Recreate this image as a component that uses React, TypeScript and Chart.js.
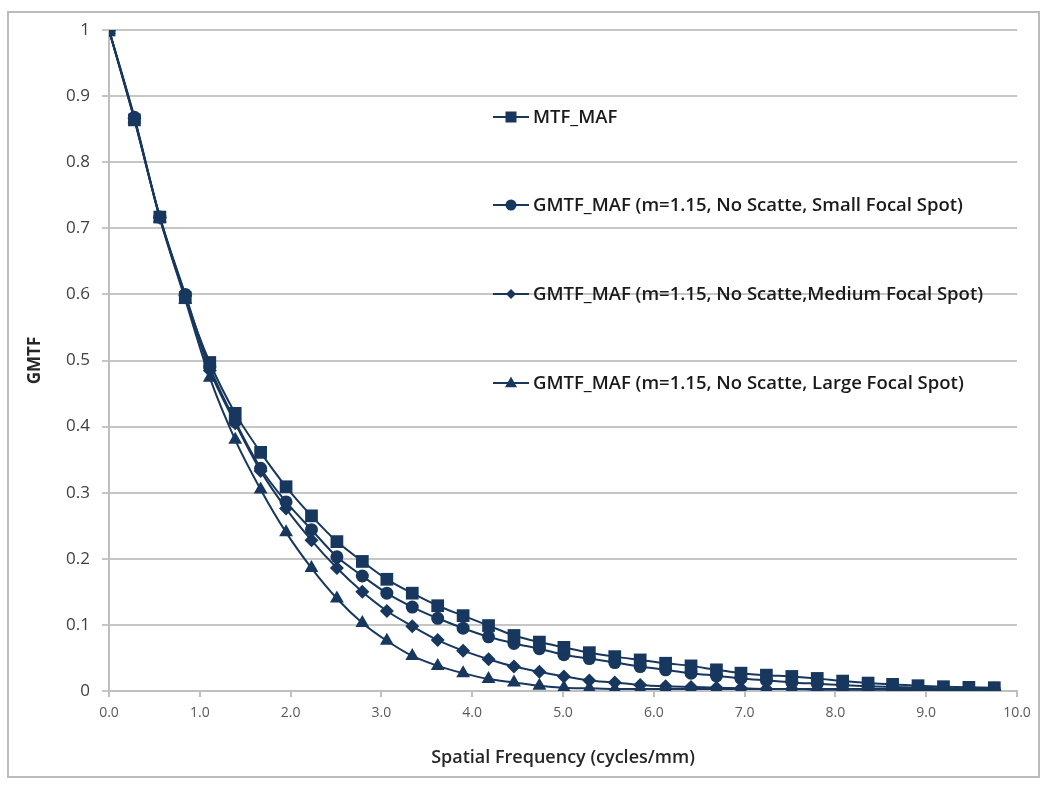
import React, { useEffect, useRef } from "react";
import { Chart, registerables } from "chart.js";

Chart.register(...registerables);

const frequency = [
  0, 0.28, 0.56, 0.84, 1.11, 1.39, 1.67, 1.95, 2.23, 2.51, 2.79, 3.06,
  3.34, 3.62, 3.9, 4.18, 4.46, 4.74, 5.01, 5.29, 5.57, 5.85, 6.13, 6.41,
  6.69, 6.96, 7.24, 7.52, 7.8, 8.08, 8.36, 8.63, 8.91, 9.19, 9.47, 9.75,
];

const mtfMaf = [
  1.0, 0.864, 0.717, 0.595, 0.497, 0.42, 0.361, 0.309, 0.265, 0.226, 0.196, 0.169,
  0.148, 0.129, 0.114, 0.099, 0.084, 0.074, 0.066, 0.058, 0.052, 0.047, 0.042, 0.038,
  0.032, 0.027, 0.024, 0.022, 0.019, 0.015, 0.012, 0.01, 0.008, 0.0065, 0.0055, 0.005,
];

const gmtfSmall = [
  1.0, 0.868, 0.717, 0.6, 0.49, 0.408, 0.337, 0.286, 0.244, 0.203, 0.174, 0.148,
  0.127, 0.11, 0.095, 0.082, 0.072, 0.064, 0.055, 0.049, 0.043, 0.037, 0.032, 0.027,
  0.023, 0.019, 0.016, 0.013, 0.011, 0.009, 0.007, 0.006, 0.005, 0.004, 0.003, 0.002,
];

const gmtfMedium = [
  1.0, 0.866, 0.716, 0.598, 0.485, 0.405, 0.333, 0.276, 0.228, 0.186, 0.15, 0.121,
  0.098, 0.077, 0.061, 0.048, 0.037, 0.029, 0.022, 0.016, 0.013, 0.009, 0.007, 0.006,
  0.005, 0.004, 0.003, 0.003, 0.002, 0.002, 0.002, 0.002, 0.001, 0.001, 0.001, 0.001,
];

const gmtfLarge = [
  1.0, 0.865, 0.715, 0.592, 0.474, 0.38, 0.305, 0.24, 0.186, 0.14, 0.103, 0.076,
  0.053, 0.038, 0.027, 0.018, 0.013, 0.008, 0.005, 0.004, 0.003, 0.003, 0.003, 0.003,
  0.003, 0.003, 0.003, 0.003, 0.003, 0.003, 0.003, 0.003, 0.003, 0.003, 0.003, 0.003,
];

const seriesNames = [
  "MTF_MAF",
  "GMTF_MAF (m=1.15, No Scatte, Small Focal Spot)",
  "GMTF_MAF (m=1.15, No Scatte,Medium Focal Spot)",
  "GMTF_MAF (m=1.15, No Scatte, Large Focal Spot)",
];

const xTickLabels = ["0.0", "1.0", "2.0", "3.0", "4.0", "5.0", "6.0", "7.0", "8.0", "9.0", "10.0"];
const yTickLabels = ["0", "0.1", "0.2", "0.3", "0.4", "0.5", "0.6", "0.7", "0.8", "0.9", "1"];

const NAVY = "#17375E";
const FONT = "'Open Sans', 'Noto Sans', sans-serif";

function drawMarker(ctx: CanvasRenderingContext2D, style: string, x: number, y: number, s: number) {
  ctx.beginPath();
  if (style === "rect") {
    ctx.rect(x - s, y - s, 2 * s, 2 * s);
  } else if (style === "circle") {
    ctx.arc(x, y, s, 0, Math.PI * 2);
  } else if (style === "rectRot") {
    ctx.moveTo(x, y - s);
    ctx.lineTo(x + s, y);
    ctx.lineTo(x, y + s);
    ctx.lineTo(x - s, y);
    ctx.closePath();
  } else {
    ctx.moveTo(x, y - s * 1.1);
    ctx.lineTo(x + s, y + s * 0.7);
    ctx.lineTo(x - s, y + s * 0.7);
    ctx.closePath();
  }
  ctx.fill();
}

export default function App() {
  const ref = useRef<HTMLCanvasElement | null>(null);

  useEffect(() => {
    if (!ref.current) return;
    const styles = ["rect", "circle", "rectRot", "triangle"];
    const radii = [9, 6.5, 7, 8];
    const values = [mtfMaf, gmtfSmall, gmtfMedium, gmtfLarge];

    const frame = {
      id: "frame",
      beforeDraw(chart: any) {
        const ctx = chart.ctx;
        ctx.save();
        ctx.fillStyle = "#ffffff";
        ctx.fillRect(0, 0, chart.width, chart.height);
        ctx.strokeStyle = "#bcbcbc";
        ctx.lineWidth = 2;
        ctx.strokeRect(8, 12, 1031, 765);
        ctx.restore();
      },
    };

    const legendPlugin = {
      id: "insideLegend",
      afterDraw(chart: any) {
        const ctx = chart.ctx;
        const ys = [117, 205, 294, 383];
        const legendSizes = [5.5, 5.5, 5, 6];
        ctx.save();
        seriesNames.forEach((name, i) => {
          const y = ys[i];
          ctx.strokeStyle = NAVY;
          ctx.lineWidth = 2;
          ctx.beginPath();
          ctx.moveTo(493, y);
          ctx.lineTo(529, y);
          ctx.stroke();
          ctx.fillStyle = NAVY;
          drawMarker(ctx, styles[i], 511, y, legendSizes[i]);
          ctx.fillStyle = "#1a1a1a";
          ctx.font = `600 18.5px ${FONT}`;
          ctx.textAlign = "left";
          ctx.textBaseline = "middle";
          ctx.fillText(name, 533, y + 1);
        });
        ctx.restore();
      },
    };

    const chart = new Chart(ref.current, {
      type: "line",
      data: {
        datasets: values.map((vals, i) => ({
          label: seriesNames[i],
          data: vals.map((v, j) => ({ x: frequency[j], y: v })),
          borderColor: NAVY,
          backgroundColor: NAVY,
          borderWidth: 2,
          pointStyle: styles[i] as any,
          pointRadius: radii[i],
          pointBackgroundColor: NAVY,
          pointBorderColor: NAVY,
          pointBorderWidth: 0,
          tension: 0.3,
          fill: false,
        })),
      },
      options: {
        responsive: false,
        animation: false,
        layout: { padding: { top: 30, right: 33, left: 0, bottom: 0 } },
        plugins: {
          legend: { display: false },
          tooltip: { enabled: false },
        },
        scales: {
          x: {
            type: "linear",
            min: 0,
            max: 10,
            afterFit: (s: any) => {
              s.height = 100;
            },
            afterBuildTicks: (s: any) => {
              s.ticks = xTickLabels.map((_, i) => ({ value: i }));
            },
            ticks: {
              callback: (v: any) => xTickLabels[Math.round(Number(v))],
              color: "#595959",
              font: { family: FONT, size: 14 },
              padding: 8,
              maxRotation: 0,
              autoSkip: false,
            },
            grid: {
              drawOnChartArea: false,
              drawTicks: true,
              tickLength: 6,
              color: "#bfbfbf",
              lineWidth: 2,
            },
            border: { color: "#bfbfbf", width: 2 },
            title: {
              display: true,
              text: "Spatial Frequency (cycles/mm)",
              color: "#262626",
              font: { family: FONT, size: 18, weight: "600" as any },
              padding: { top: 0, bottom: 22 },
            },
          },
          y: {
            type: "linear",
            min: 0,
            max: 1,
            afterFit: (s: any) => {
              s.width = 109;
            },
            afterBuildTicks: (s: any) => {
              s.ticks = yTickLabels.map((_, i) => ({ value: i / 10 }));
            },
            ticks: {
              callback: (v: any) => yTickLabels[Math.round(Number(v) * 10)],
              color: "#404040",
              font: { family: FONT, size: 17 },
              padding: 12,
              autoSkip: false,
            },
            grid: {
              drawOnChartArea: true,
              drawTicks: true,
              tickLength: 7,
              color: "#c6c6c6",
              lineWidth: 2,
            },
            border: { color: "#bfbfbf", width: 2 },
            title: {
              display: true,
              text: "GMTF",
              color: "#262626",
              font: { family: FONT, size: 17, weight: "bold" as any },
              padding: { top: 25, bottom: 0 },
            },
          },
        },
      },
      plugins: [frame, legendPlugin],
    });

    return () => chart.destroy();
  }, []);

  return (
    <div style={{ position: "fixed", left: 0, top: 0, width: 1050, height: 791, background: "#fff" }}>
      <canvas ref={ref} width={1050} height={791} style={{ display: "block" }} />
    </div>
  );
}
